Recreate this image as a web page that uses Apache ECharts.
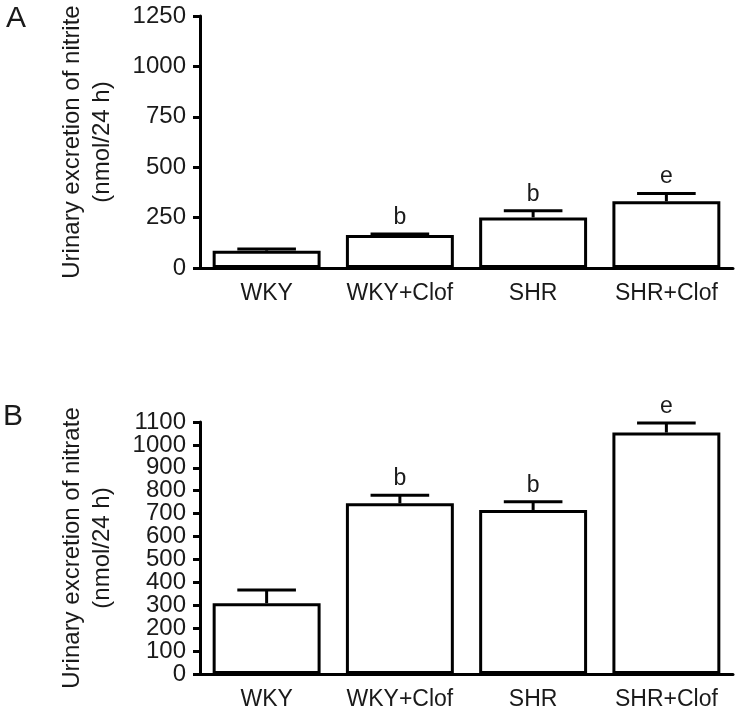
<!DOCTYPE html>
<html><head><meta charset="utf-8">
<script src="https://cdn.jsdelivr.net/npm/echarts@6/dist/echarts.min.js"></script>
<style>html,body{margin:0;padding:0;background:#fff}#c{width:740px;height:712px}</style>
</head><body><div id="c"></div>
<script>
// ---- data ----
const categories = ['WKY', 'WKY+Clof', 'SHR', 'SHR+Clof'];
const nitriteMean = [86, 164, 251, 331];
const nitriteSem = [8, 5, 33, 39];
const nitriteSig = ['', 'b', 'b', 'e'];
const nitrateMean = [309, 745, 716, 1054];
const nitrateSem = [58, 35, 36, 42];
const nitrateSig = ['', 'b', 'b', 'e'];
const nitriteAxis = { min: 0, max: 1250, interval: 250 };
const nitrateAxis = { min: 0, max: 1100, interval: 100 };
const nitrateTickLabels = ['0', '100', '200', '300', '400', '500', '600', '700', '800', '900', '1000', '1100'];
const nitriteTitle = 'Urinary excretion of nitrite\n(nmol/24 h)';
const nitrateTitle = 'Urinary excretion of nitrate\n(nmol/24 h)';
const panelLabels = ['A', 'B'];

const FONT = 'Liberation Sans';
const INK = '#1a1a1a';

function errRenderer(letters) {
  return function (params, api) {
    const i = api.value(0), m = api.value(1), s = api.value(2);
    const top = api.coord([i, m]);
    const hi = api.coord([i, m + s]);
    const band = api.size([1, 0])[0];
    const hw = band * 0.22;
    const children = [
      { type: 'line', shape: { x1: top[0], y1: top[1], x2: hi[0], y2: hi[1] }, style: { stroke: '#000', lineWidth: 3 } },
      { type: 'line', shape: { x1: hi[0] - hw, y1: hi[1], x2: hi[0] + hw, y2: hi[1] }, style: { stroke: '#000', lineWidth: 3 } }
    ];
    const letter = letters[params.dataIndex];
    if (letter) {
      children.push({ type: 'text', style: { text: letter, x: hi[0], y: hi[1] - 5, align: 'center', verticalAlign: 'bottom', font: '23px "' + FONT + '"', fill: INK } });
    }
    return { type: 'group', children: children };
  };
}

function yAx(idx, ax, title, showLabels) {
  return {
    type: 'value', gridIndex: idx, min: ax.min, max: ax.max, interval: ax.interval,
    name: title, nameLocation: 'middle', nameGap: 83, nameRotate: 90, nameMoveOverlap: false,
    nameTextStyle: { fontFamily: FONT, fontSize: 24, lineHeight: 30, color: INK },
    axisLine: { show: true, lineStyle: { color: '#000', width: 3 } },
    axisTick: { show: true, length: 7, lineStyle: { color: '#000', width: 3 } },
    axisLabel: { show: showLabels, fontFamily: FONT, fontSize: 24, color: INK, margin: 14, formatter: v => String(v), hideOverlap: false },
    splitLine: { show: false }
  };
}
function xAx(idx) {
  return {
    type: 'category', gridIndex: idx, data: categories,
    axisLine: { show: true, lineStyle: { color: '#000', width: 3 } },
    axisTick: { show: false },
    axisLabel: { fontFamily: FONT, fontSize: 23, color: INK, margin: 14, interval: 0 }
  };
}
function bars(idx, mean) {
  return {
    type: 'bar', xAxisIndex: idx, yAxisIndex: idx, data: mean, barWidth: '81%',
    itemStyle: { color: '#fff', borderColor: '#000', borderWidth: 3 }, z: 2, silent: true
  };
}
function errs(idx, mean, sem, sig) {
  return {
    type: 'custom', xAxisIndex: idx, yAxisIndex: idx,
    data: mean.map((m, i) => [i, m, sem[i]]),
    renderItem: errRenderer(sig), z: 3, silent: true
  };
}

const chart = echarts.init(document.getElementById('c'), null, { renderer: 'canvas' });
const baseGraphics = [
  { type: 'text', left: 6, top: 4, style: { text: panelLabels[0], font: '30px "' + FONT + '"', fill: INK } },
  { type: 'text', left: 3, top: 402, style: { text: panelLabels[1], font: '30px "' + FONT + '"', fill: INK } }
];
chart.setOption({
  animation: false,
  backgroundColor: '#fff',
  grid: [
    { left: 200, top: 16, width: 533, height: 252 },
    { left: 200, top: 422, width: 533, height: 252 }
  ],
  xAxis: [xAx(0), xAx(1)],
  yAxis: [yAx(0, nitriteAxis, nitriteTitle, true), yAx(1, nitrateAxis, nitrateTitle, false)],
  graphic: baseGraphics,
  series: [
    bars(0, nitriteMean), errs(0, nitriteMean, nitriteSem, nitriteSig),
    bars(1, nitrateMean), errs(1, nitrateMean, nitrateSem, nitrateSig)
  ]
});
// Panel B tick labels placed through the axis scale (dense ticks would otherwise be auto-hidden)
const tickGraphics = nitrateTickLabels.map(function (t) {
  const y = chart.convertToPixel({ yAxisIndex: 1 }, Number(t));
  return { type: 'text', x: 186, y: y, style: { text: t, align: 'right', verticalAlign: 'middle', font: '24px "' + FONT + '"', fill: INK } };
});
chart.setOption({ graphic: baseGraphics.concat(tickGraphics) });
</script>
</body></html>
